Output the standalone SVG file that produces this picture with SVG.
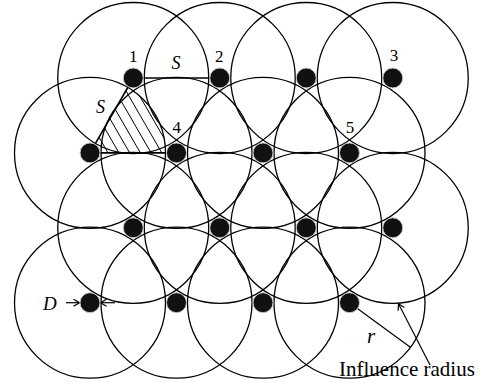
<svg xmlns="http://www.w3.org/2000/svg" width="479" height="385" viewBox="0 0 479 385">
<style>
.rng{fill:none;stroke:#000;stroke-width:1.3}
.dot{fill:#111;stroke:#c8c8c8;stroke-width:1}
.edge{stroke:#000;stroke-width:1.6;fill:none}
.hatch{stroke:#000;stroke-width:1;fill:none}
.arr{stroke:#000;stroke-width:1.2;fill:none}
.num{font-family:"Liberation Serif",serif;font-size:17px;text-anchor:middle;fill:#000}
.it{font-family:"Liberation Serif",serif;font-style:italic;fill:#000}
.lbl{font-family:"Liberation Serif",serif;font-size:21px;fill:#000}
</style>
<defs>
<marker id="ah" markerWidth="8" markerHeight="8" refX="6.5" refY="4" orient="auto" markerUnits="userSpaceOnUse">
<path d="M0.5,0.5 L6.5,4 L0.5,7.5" fill="none" stroke="#000" stroke-width="1.2"/>
</marker>
<clipPath id="hc">
<path d="M90,152.9 L127.8,87.5 A75.5,75.5 0 0,1 165.5,152.9 Z"/>
</clipPath>
</defs>
<rect width="479" height="385" fill="#fff"/>
<g id="ranges">
<circle class="rng" cx="133.25" cy="78" r="75.5"/>
<circle class="rng" cx="219.75" cy="78" r="75.5"/>
<circle class="rng" cx="306.25" cy="78" r="75.5"/>
<circle class="rng" cx="392.75" cy="78" r="75.5"/>
<circle class="rng" cx="90" cy="152.9" r="75.5"/>
<circle class="rng" cx="176.5" cy="152.9" r="75.5"/>
<circle class="rng" cx="263" cy="152.9" r="75.5"/>
<circle class="rng" cx="349.5" cy="152.9" r="75.5"/>
<circle class="rng" cx="133.25" cy="227.8" r="75.5"/>
<circle class="rng" cx="219.75" cy="227.8" r="75.5"/>
<circle class="rng" cx="306.25" cy="227.8" r="75.5"/>
<circle class="rng" cx="392.75" cy="227.8" r="75.5"/>
<circle class="rng" cx="90" cy="302.7" r="75.5"/>
<circle class="rng" cx="176.5" cy="302.7" r="75.5"/>
<circle class="rng" cx="263" cy="302.7" r="75.5"/>
<circle class="rng" cx="349.5" cy="302.7" r="75.5"/>
</g>
<g id="hatching" clip-path="url(#hc)">
<path class="hatch" d="M97,152.9 l-46.2,-80 M108,152.9 l-46.2,-80 M119,152.9 l-46.2,-80 M129.7,152.9 l-46.2,-80 M140.4,152.9 l-46.2,-80 M151.1,152.9 l-46.2,-80 M161.8,152.9 l-46.2,-80 M172.5,152.9 l-46.2,-80"/>
</g>
<g id="connectors">
<line class="edge" x1="133.25" y1="78" x2="219.75" y2="78"/>
<line class="edge" x1="90" y1="152.9" x2="133.25" y2="78"/>
<line class="edge" x1="90" y1="152.9" x2="176.5" y2="152.9"/>
<line class="arr" x1="349.5" y1="302.7" x2="410" y2="347"/>
<line class="arr" x1="430" y1="365" x2="398.5" y2="303.8" marker-end="url(#ah)"/>
<line class="arr" x1="66" y1="302.7" x2="79.5" y2="302.7" marker-end="url(#ah)"/>
<line class="arr" x1="115" y1="302.7" x2="100.5" y2="302.7" marker-end="url(#ah)"/>
</g>
<g id="n1"><circle class="dot" cx="133.25" cy="78" r="10"/><text class="num" x="133.3" y="61.7">1</text></g>
<g id="n2"><circle class="dot" cx="219.75" cy="78" r="10"/><text class="num" x="219.3" y="61.7">2</text></g>
<g id="n1c"><circle class="dot" cx="306.25" cy="78" r="10"/></g>
<g id="n3"><circle class="dot" cx="392.75" cy="78" r="10"/><text class="num" x="394" y="60.7">3</text></g>
<g id="n2a"><circle class="dot" cx="90" cy="152.9" r="10"/></g>
<g id="n4"><circle class="dot" cx="176.5" cy="152.9" r="10"/><text class="num" x="176.7" y="133.3">4</text></g>
<g id="n2c"><circle class="dot" cx="263" cy="152.9" r="10"/></g>
<g id="n5"><circle class="dot" cx="349.5" cy="152.9" r="10"/><text class="num" x="350" y="132.8">5</text></g>
<g id="n3a"><circle class="dot" cx="133.25" cy="227.8" r="10"/></g>
<g id="n3b"><circle class="dot" cx="219.75" cy="227.8" r="10"/></g>
<g id="n3c"><circle class="dot" cx="306.25" cy="227.8" r="10"/></g>
<g id="n3d"><circle class="dot" cx="392.75" cy="227.8" r="10"/></g>
<g id="n4a"><circle class="dot" cx="90" cy="302.7" r="10"/></g>
<g id="n4b"><circle class="dot" cx="176.5" cy="302.7" r="10"/></g>
<g id="n4c"><circle class="dot" cx="263" cy="302.7" r="10"/></g>
<g id="n4d"><circle class="dot" cx="349.5" cy="302.7" r="10"/></g>
<g id="labels">
<text class="it" x="176" y="68.5" font-size="18" text-anchor="middle">S</text>
<text class="it" x="100.5" y="113" font-size="18" text-anchor="middle">S</text>
<text class="it" x="43" y="310" font-size="19">D</text>
<text class="it" x="367" y="343" font-size="21">r</text>
<text class="lbl" x="339" y="375.5">Influence radius</text>
</g>
</svg>
